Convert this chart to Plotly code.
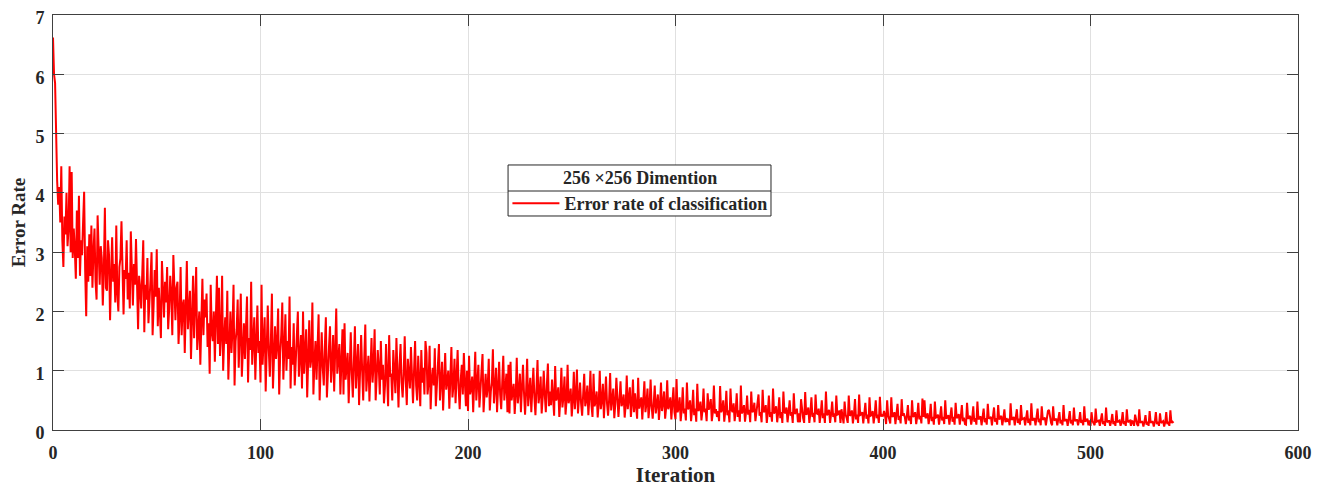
import plotly.graph_objects as go

# Error rate readings, two readings per iteration
error_rate = [
    6.62, 6.0, 5.85, 4.6, 4.2, 3.8, 4.1, 3.5, 4.45, 3.2, 2.75, 3.6, 3.3, 4.0, 3.1, 3.4, 4.45, 3.0, 4.35, 2.9,
    3.4, 3.05, 2.55, 3.7, 2.9, 3.95, 2.6, 3.2, 2.95, 3.5, 4.02, 2.7, 1.92, 3.1, 2.5, 3.3, 2.6, 3.45, 2.4, 3.0,
    3.4, 2.5, 2.2, 3.62, 2.8, 2.45, 3.1, 2.9, 2.1, 2.7, 3.75, 2.4, 2.35, 3.2, 2.95, 1.85, 2.6, 3.25, 2.5, 2.8,
    2.15, 3.45, 2.3, 2.0, 2.75, 2.9, 3.52, 2.4, 1.95, 2.7, 2.55, 3.2, 2.2, 2.65, 2.05, 3.35, 2.5, 2.1, 2.8, 2.45,
    3.22, 2.3, 1.7, 2.6, 2.4, 2.05, 2.85, 3.2, 1.65, 2.45, 2.2, 2.9, 1.8, 2.35, 2.55, 3.0, 1.6, 2.1, 2.7, 2.25,
    3.05, 1.75, 2.4, 2.0, 1.55, 2.85, 2.3, 1.9, 2.5, 2.15, 2.75, 1.7, 2.05, 2.6, 2.3, 1.6, 2.95, 2.1, 1.85, 2.4,
    2.5, 1.45, 1.9, 2.75, 1.6, 2.1, 2.2, 1.3, 1.95, 2.85, 1.7, 2.0, 2.35, 1.2, 1.75, 2.6, 1.55, 2.05, 2.75, 1.35,
    1.85, 2.0, 1.1, 1.7, 2.55, 1.6, 2.2, 1.9, 2.3, 1.4, 1.8, 0.95, 2.45, 1.65, 1.5, 2.0, 1.15, 1.9, 2.6, 1.45,
    2.4, 1.25, 1.6, 2.6, 1.0, 1.55, 1.9, 1.45, 2.35, 0.85, 1.4, 2.0, 1.3, 1.7, 2.45, 0.75, 1.5, 1.7, 2.2, 1.05,
    1.6, 2.3, 0.9, 1.45, 1.8, 1.2, 1.65, 2.25, 0.8, 1.55, 1.35, 2.5, 1.1, 1.6, 1.9, 0.85, 1.4, 2.1, 1.3, 1.5,
    0.8, 2.45, 1.1, 1.4, 1.9, 0.65, 1.3, 2.1, 1.35, 0.9, 1.5, 2.3, 0.7, 1.25, 1.75, 1.2, 1.45, 2.05, 0.6, 1.3,
    1.6, 2.15, 0.85, 1.35, 1.95, 1.0, 1.5, 1.2, 2.25, 0.7, 1.4, 1.1, 1.8, 0.75, 1.3, 1.55, 2.0, 0.9, 1.25, 1.6,
    0.7, 2.0, 0.95, 1.25, 1.7, 0.55, 1.2, 1.85, 1.05, 1.2, 2.15, 0.6, 1.15, 1.5, 0.85, 1.3, 1.95, 0.5, 1.1, 1.65,
    1.05, 0.75, 1.4, 1.9, 0.55, 1.2, 1.4, 1.75, 0.8, 1.1, 1.6, 0.65, 1.25, 2.05, 0.95, 1.15, 1.45, 0.6, 1.3, 1.7,
    0.6, 1.8, 0.85, 1.05, 1.3, 0.45, 1.0, 1.65, 0.95, 0.55, 1.15, 1.75, 0.7, 1.0, 1.45, 0.42, 0.95, 1.6, 1.0, 0.5,
    1.2, 1.78, 0.65, 1.05, 1.25, 0.48, 1.0, 1.55, 0.8, 1.1, 1.7, 0.5, 0.9, 1.35, 1.05, 0.6, 1.5, 0.85, 1.1, 0.45,
    0.75, 1.45, 0.9, 0.4, 1.6, 0.9, 0.95, 0.5, 1.35, 0.85, 0.62, 1.55, 0.9, 0.38, 1.1, 1.45, 0.8, 0.55, 0.95, 1.58,
    0.85, 0.42, 1.2, 0.9, 0.7, 1.4, 0.85, 0.45, 1.0, 1.5, 0.75, 0.5, 1.25, 0.9, 0.4, 1.35, 0.8, 1.05, 0.6, 1.5,
    1.3, 0.6, 0.8, 1.42, 0.35, 0.85, 1.05, 0.75, 1.38, 0.4, 0.8, 0.95, 1.45, 0.5, 0.8, 1.15, 0.33, 0.75, 1.3, 0.68,
    0.85, 1.0, 0.36, 0.8, 1.4, 0.55, 0.75, 1.2, 0.45, 0.9, 1.35, 0.7, 0.35, 0.85, 1.1, 0.6, 1.3, 0.8, 0.4, 1.0,
    0.32, 1.25, 0.6, 0.7, 0.9, 0.3, 0.7, 1.32, 0.5, 0.75, 1.1, 0.38, 0.7, 0.85, 1.28, 0.3, 0.7, 0.95, 0.55, 0.72,
    1.2, 0.33, 0.65, 0.8, 1.36, 0.45, 0.7, 1.05, 0.3, 0.75, 1.15, 0.6, 0.35, 0.8, 1.25, 0.5, 0.7, 0.95, 0.3, 1.1,
    0.28, 1.15, 0.5, 0.65, 0.78, 0.27, 0.6, 1.22, 0.45, 0.65, 0.95, 0.3, 0.6, 1.1, 0.62, 0.26, 0.65, 1.2, 0.4, 0.6,
    0.88, 0.3, 0.62, 1.05, 0.55, 0.25, 0.7, 1.18, 0.45, 0.6, 0.9, 0.28, 0.55, 1.0, 0.6, 0.3, 0.75, 1.12, 0.4, 0.65,
    0.42, 0.85, 0.55, 0.24, 1.08, 0.5, 0.55, 0.72, 0.22, 0.52, 1.05, 0.38, 0.55, 0.9, 0.26, 0.5, 1.1, 0.45, 0.55, 0.7,
    0.23, 0.5, 0.98, 0.35, 0.58, 1.02, 0.28, 0.5, 0.8, 0.45, 0.24, 0.6, 0.95, 0.4, 0.5, 0.75, 0.25, 0.55, 1.0, 0.42,
    0.22, 0.95, 0.4, 0.48, 0.65, 0.21, 0.45, 1.0, 0.35, 0.5, 0.78, 0.2, 0.46, 0.9, 0.45, 0.24, 0.5, 0.96, 0.33, 0.48,
    0.7, 0.2, 0.45, 0.88, 0.38, 0.22, 0.5, 0.82, 0.4, 0.46, 0.6, 0.21, 0.42, 0.92, 0.35, 0.5, 0.72, 0.22, 0.45, 0.85,
    0.3, 0.62, 0.42, 0.19, 0.88, 0.36, 0.45, 0.55, 0.18, 0.42, 0.82, 0.3, 0.44, 0.7, 0.2, 0.4, 0.85, 0.4, 0.19, 0.45,
    0.75, 0.28, 0.42, 0.6, 0.17, 0.4, 0.8, 0.32, 0.45, 0.65, 0.19, 0.38, 0.84, 0.35, 0.42, 0.55, 0.18, 0.4, 0.72, 0.3,
    0.18, 0.86, 0.3, 0.36, 0.55, 0.15, 0.35, 0.72, 0.28, 0.36, 0.16, 0.8, 0.35, 0.38, 0.5, 0.15, 0.34, 0.68, 0.25, 0.36,
    0.14, 0.78, 0.32, 0.35, 0.48, 0.16, 0.33, 0.7, 0.3, 0.36, 0.15, 0.62, 0.34, 0.4, 0.52, 0.15, 0.3, 0.75, 0.28, 0.35,
    0.22, 0.32, 0.15, 0.74, 0.3, 0.34, 0.5, 0.14, 0.32, 0.66, 0.25, 0.33, 0.13, 0.7, 0.34, 0.3, 0.45, 0.15, 0.32, 0.62,
    0.22, 0.33, 0.14, 0.75, 0.28, 0.32, 0.42, 0.14, 0.3, 0.58, 0.26, 0.34, 0.13, 0.65, 0.3, 0.32, 0.46, 0.15, 0.3, 0.55,
    0.6, 0.24, 0.3, 0.13, 0.68, 0.3, 0.32, 0.42, 0.12, 0.3, 0.58, 0.22, 0.3, 0.14, 0.7, 0.28, 0.31, 0.4, 0.13, 0.29,
    0.55, 0.2, 0.3, 0.12, 0.65, 0.3, 0.28, 0.38, 0.13, 0.3, 0.5, 0.24, 0.3, 0.12, 0.62, 0.27, 0.3, 0.36, 0.13, 0.28,
    0.13, 0.52, 0.28, 0.2, 0.12, 0.64, 0.26, 0.28, 0.38, 0.12, 0.28, 0.55, 0.22, 0.29, 0.13, 0.6, 0.28, 0.27, 0.36, 0.12,
    0.28, 0.5, 0.2, 0.28, 0.12, 0.65, 0.25, 0.28, 0.34, 0.12, 0.27, 0.48, 0.22, 0.28, 0.13, 0.58, 0.26, 0.27, 0.33, 0.12,
    0.35, 0.26, 0.11, 0.48, 0.26, 0.2, 0.12, 0.58, 0.24, 0.26, 0.33, 0.11, 0.26, 0.52, 0.18, 0.26, 0.12, 0.6, 0.25, 0.26,
    0.3, 0.11, 0.25, 0.46, 0.19, 0.26, 0.11, 0.55, 0.24, 0.25, 0.32, 0.11, 0.26, 0.5, 0.2, 0.26, 0.12, 0.56, 0.23, 0.25,
    0.23, 0.32, 0.24, 0.1, 0.5, 0.24, 0.18, 0.11, 0.55, 0.22, 0.24, 0.3, 0.1, 0.24, 0.44, 0.17, 0.24, 0.11, 0.52, 0.24,
    0.28, 0.22, 0.1, 0.24, 0.42, 0.16, 0.24, 0.1, 0.5, 0.22, 0.24, 0.3, 0.1, 0.23, 0.46, 0.18, 0.24, 0.11, 0.53, 0.22,
    0.5, 0.2, 0.22, 0.28, 0.1, 0.22, 0.44, 0.15, 0.22, 0.09, 0.48, 0.21, 0.22, 0.26, 0.09, 0.22, 0.4, 0.16, 0.22, 0.1,
    0.5, 0.19, 0.22, 0.25, 0.09, 0.21, 0.38, 0.14, 0.22, 0.09, 0.46, 0.2, 0.22, 0.27, 0.09, 0.22, 0.42, 0.15, 0.21, 0.1,
    0.09, 0.46, 0.2, 0.2, 0.24, 0.09, 0.2, 0.4, 0.14, 0.2, 0.09, 0.48, 0.18, 0.2, 0.23, 0.08, 0.2, 0.36, 0.13, 0.2,
    0.09, 0.44, 0.19, 0.2, 0.22, 0.08, 0.2, 0.38, 0.14, 0.2, 0.09, 0.42, 0.18, 0.2, 0.24, 0.08, 0.19, 0.35, 0.13, 0.2,
    0.14, 0.19, 0.08, 0.45, 0.17, 0.19, 0.22, 0.08, 0.19, 0.35, 0.12, 0.19, 0.09, 0.42, 0.18, 0.19, 0.2, 0.08, 0.18, 0.33,
    0.12, 0.19, 0.08, 0.45, 0.16, 0.19, 0.2, 0.08, 0.19, 0.36, 0.13, 0.19, 0.08, 0.4, 0.17, 0.19, 0.21, 0.08, 0.18, 0.32,
    0.34, 0.17, 0.12, 0.08, 0.4, 0.16, 0.17, 0.19, 0.08, 0.17, 0.3, 0.11, 0.17, 0.08, 0.42, 0.15, 0.17, 0.18, 0.07, 0.17,
    0.32, 0.11, 0.17, 0.08, 0.38, 0.15, 0.17, 0.17, 0.08, 0.16, 0.3, 0.12, 0.17, 0.08, 0.4, 0.14, 0.17, 0.19, 0.08, 0.16,
    0.07, 0.3, 0.15, 0.1, 0.08, 0.36, 0.14, 0.15, 0.16, 0.07, 0.15, 0.28, 0.1, 0.15, 0.07, 0.38, 0.13, 0.15, 0.15, 0.07,
    0.15, 0.27, 0.1, 0.15, 0.07, 0.33, 0.13, 0.15, 0.16, 0.07, 0.14, 0.3, 0.1, 0.15, 0.07, 0.35, 0.13, 0.15, 0.16, 0.07,
    0.15, 0.14, 0.07, 0.26, 0.14, 0.09, 0.07, 0.35, 0.12, 0.14, 0.14, 0.06, 0.14, 0.25, 0.09, 0.14, 0.07, 0.32, 0.12, 0.14,
    0.14, 0.06, 0.14, 0.3, 0.1, 0.14, 0.07, 0.28, 0.12, 0.14, 0.15, 0.06, 0.13, 0.3, 0.1, 0.14, 0.07, 0.33, 0.12, 0.14,
    0.12,
]
# readings are taken every half iteration
iterations = [k * 0.5 for k in range(len(error_rate))]

x_ticks = [0, 100, 200, 300, 400, 500, 600]
y_ticks = [0, 1, 2, 3, 4, 5, 6, 7]

FONT = "Liberation Serif"
AX = "#404040"
TXT = "#262626"

fig = go.Figure()
fig.add_trace(go.Scatter(
    x=iterations, y=error_rate, mode="lines",
    line=dict(color="#ff0000", width=2),
    name="Error rate of classification",
))

axis_common = dict(
    showline=True, linecolor=AX, linewidth=1, mirror="ticks",
    ticks="inside", ticklen=11, tickcolor=AX, tickwidth=1,
    showgrid=True, gridcolor="#e0e0e0", gridwidth=1, zeroline=False,
    automargin=False, ticklabeloverflow="allow",
    tickfont=dict(family=FONT, size=18, color=TXT, weight="bold"),
)

fig.update_xaxes(range=[0, 600], tickvals=x_ticks, ticklabelstandoff=6,
                 title=dict(text="Iteration", font=dict(family=FONT, size=21, color=TXT, weight="bold"), standoff=3),
                 **axis_common)
fig.update_yaxes(range=[0, 7], tickvals=y_ticks, ticklabelstandoff=4, ticklabelshift=3,
                 title=dict(text="Error Rate", font=dict(family=FONT, size=19, color=TXT, weight="bold"), standoff=7),
                 **axis_common)

# Legend frame (MATLAB style legend with title row)
bx0, bx1 = 0.3655, 0.5767
by_top, by_sep, by_bot = 0.6386, 0.5759, 0.5157
fig.add_shape(type="rect", xref="paper", yref="paper", x0=bx0, x1=bx1, y0=by_bot, y1=by_top,
              line=dict(color="#262626", width=1), fillcolor="white", layer="above")
fig.add_shape(type="line", xref="paper", yref="paper", x0=bx0, x1=bx1, y0=by_sep, y1=by_sep,
              line=dict(color="#262626", width=1), layer="above")
fig.add_annotation(xref="paper", yref="paper", x=(bx0 + bx1) / 2, y=(by_top + by_sep) / 2,
                   text="256 ×256 Dimention", showarrow=False, xanchor="center", yanchor="middle",
                   font=dict(family=FONT, size=18, color=TXT, weight="bold"))

# the page body adds an 8px offset, so the figure is sized to fit the remaining window
fig.update_layout(
    width=1314, height=480,
    margin=dict(l=45, r=24, t=7, b=58),
    paper_bgcolor="white", plot_bgcolor="white",
    showlegend=True,
    legend=dict(x=bx0 - 0.0005, y=(by_sep + by_bot) / 2, xanchor="left", yanchor="middle",
                bgcolor="rgba(0,0,0,0)", borderwidth=0, itemwidth=47,
                font=dict(family=FONT, size=18, color=TXT, weight="bold")),
)

fig.write_html("out.html")
